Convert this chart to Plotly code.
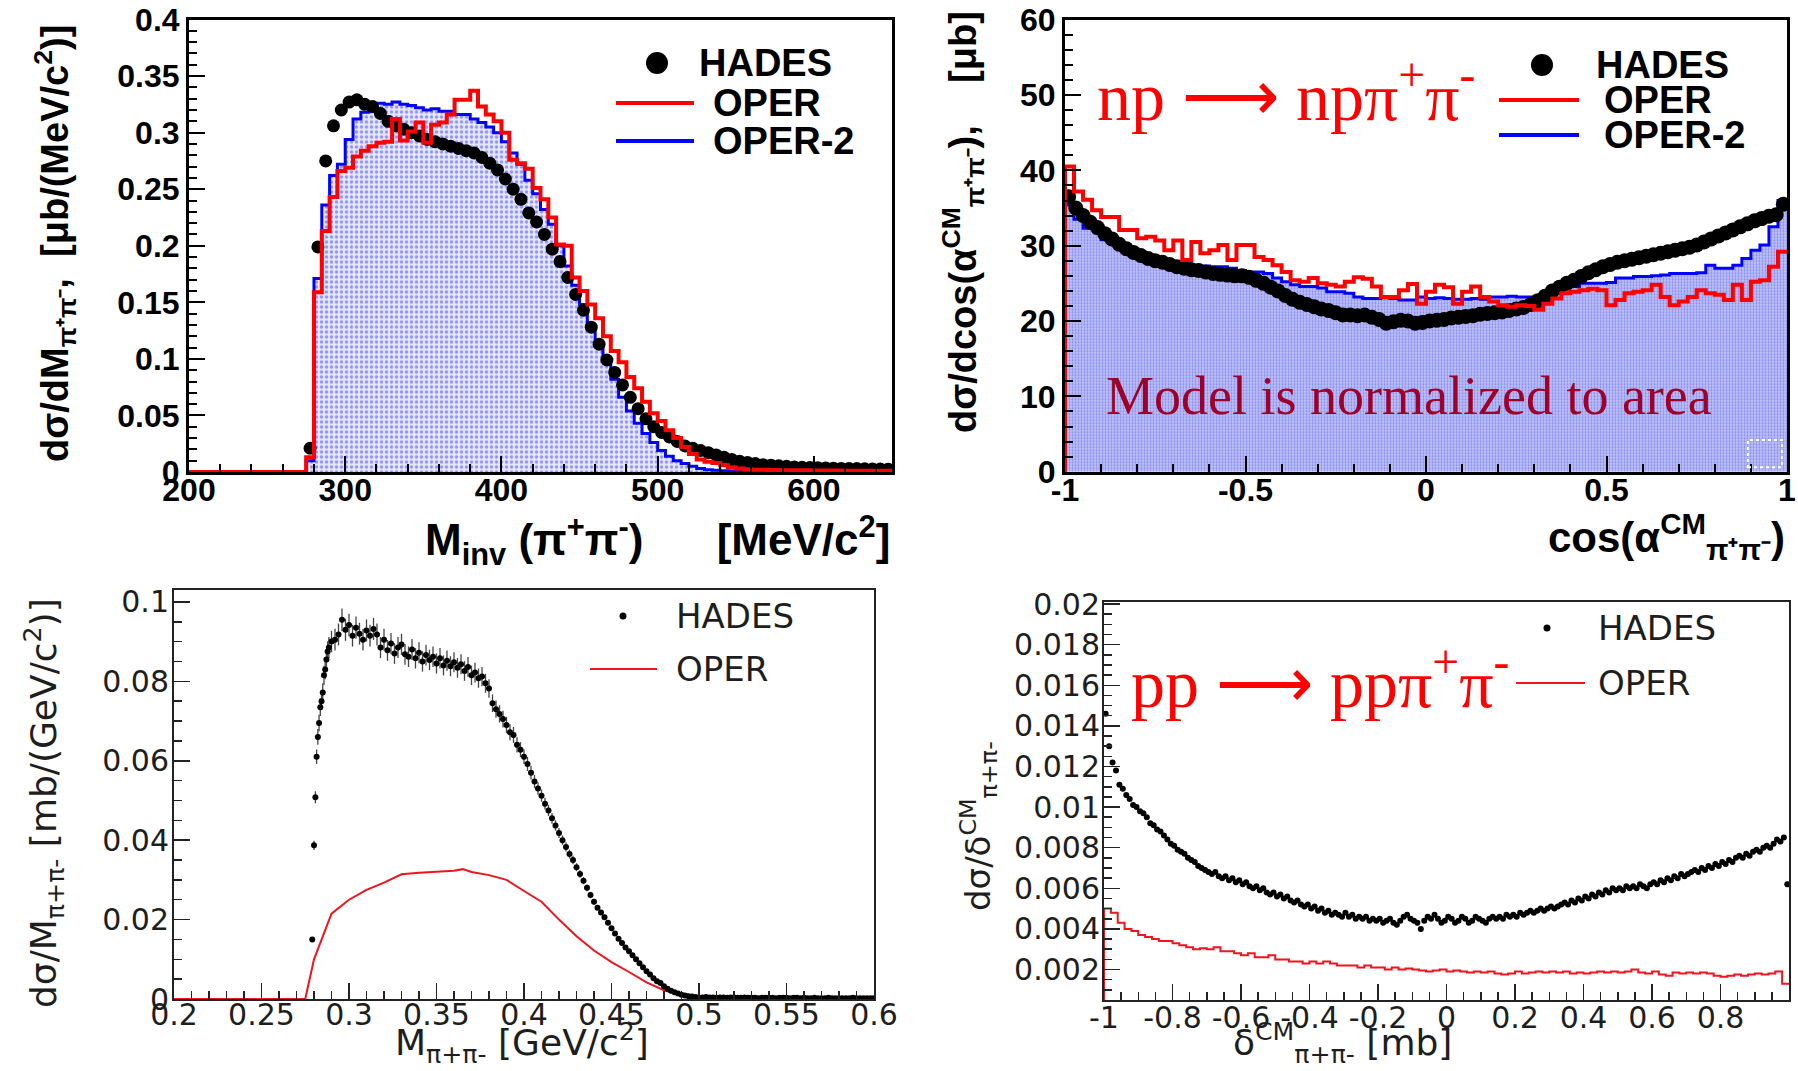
import numpy as np
import plotly.graph_objects as go

W, H = 1798, 1071

# ---------------- top-left: M_inv(pi+ pi-), np -> np pi+ pi- ----------------
m_edges = np.arange(200.0, 655.0, 5.0)          # 5 MeV bins, 200..650
oper_m = [0, 0, 0, 0, 0, 0, 0, 0, 0, 0, 0, 0, 0, 0, 0,
          0.013, 0.159, 0.213, 0.243, 0.266,
          0.269, 0.279, 0.284, 0.288, 0.291, 0.292, 0.312, 0.293, 0.301, 0.309,
          0.291, 0.307, 0.309, 0.316, 0.329, 0.329, 0.337, 0.323, 0.316, 0.310,
          0.300, 0.276, 0.273, 0.268, 0.251, 0.241, 0.225, 0.201, 0.200, 0.172,
          0.160, 0.148, 0.136, 0.120, 0.107, 0.097, 0.084, 0.074, 0.062, 0.052,
          0.045, 0.037, 0.030, 0.022, 0.016, 0.011, 0.009, 0.008, 0.006, 0.004,
          0.003, 0.0025,
          0.002, 0.002, 0.0018, 0.0018, 0.0016, 0.0016, 0.0015, 0.0015, 0.0014,
          0.0014, 0.0013, 0.0013, 0.0012, 0.0012, 0.0012, 0.0011, 0.0011, 0.001]
oper2_m = [0, 0, 0, 0, 0, 0, 0, 0, 0, 0, 0, 0, 0, 0, 0,
           0.010, 0.171, 0.236, 0.262, 0.272,
           0.294, 0.312, 0.318, 0.322, 0.326, 0.325, 0.327, 0.325, 0.324, 0.322,
           0.320, 0.321, 0.319, 0.319, 0.316, 0.316, 0.312, 0.309, 0.305, 0.300,
           0.292, 0.282, 0.272, 0.258, 0.246, 0.232, 0.219, 0.200, 0.182, 0.165,
           0.148, 0.130, 0.114, 0.099, 0.082, 0.066, 0.054, 0.043, 0.034, 0.026,
           0.019, 0.014, 0.010, 0.0075, 0.005, 0.003, 0.002, 0.0015, 0.001,
           0.0008, 0.0006, 0.0005, 0.0004, 0.0003, 0, 0, 0, 0, 0, 0, 0, 0, 0, 0,
           0, 0, 0, 0, 0, 0]
hades_m_x = np.arange(277.5, 650.0, 5.0)
hades_m = [0.021, 0.199, 0.275, 0.306, 0.320, 0.327, 0.329, 0.325, 0.323, 0.317,
           0.310, 0.306, 0.303, 0.300, 0.297, 0.294, 0.292, 0.290, 0.288, 0.286,
           0.284, 0.282, 0.278, 0.273, 0.267, 0.259, 0.250, 0.241, 0.229, 0.221,
           0.210, 0.197, 0.186, 0.172, 0.157, 0.143, 0.128, 0.113, 0.099, 0.088,
           0.077, 0.066, 0.056, 0.047, 0.040, 0.035, 0.031, 0.027, 0.023, 0.021,
           0.019, 0.017, 0.015, 0.013, 0.011, 0.0095, 0.0085, 0.0075, 0.0065, 0.006,
           0.0055, 0.005, 0.0045, 0.0042, 0.004, 0.0038, 0.0036, 0.0034, 0.0032, 0.003,
           0.003, 0.0028, 0.0027, 0.0026, 0.0025]

# ---------------- top-right: cos(alpha_CM), np -> np pi+ pi- ----------------
c_edges = np.linspace(-1.0, 1.0, 81)             # 80 bins of 0.025
oper_c = [40.5, 37.2, 36.1, 34.7, 33.8, 33.8, 32.1, 32.1, 31.0, 31.2,
          30.7, 29.4, 30.7, 28.1, 30.5, 29.0, 29.4, 30.1, 28.1, 30.1,
          30.1, 28.5, 28.1, 27.4, 26.5, 25.4, 25.2, 25.7, 25.0, 24.8,
          24.6, 25.2, 25.8, 25.6, 24.6, 23.2, 23.2, 24.1, 24.9, 22.3,
          23.9, 24.8, 24.5, 22.3, 23.9, 24.6, 23.2, 22.6, 22.1, 21.9,
          22.1, 22.0, 21.5, 22.3, 23.0, 23.7, 23.9, 24.1, 24.3, 24.1,
          22.1, 22.8, 23.7, 23.9, 24.1, 24.8, 23.2, 22.1, 22.6, 23.2,
          24.1, 23.7, 23.5, 22.8, 24.8, 22.8, 25.2, 25.4, 27.2, 29.2]
oper2_c = [35.4, 33.5, 32.3, 32.3, 30.8, 30.5, 30.2, 29.0, 28.3, 28.3,
           28.1, 28.0, 27.8, 27.6, 27.4, 27.3, 27.2, 27.2, 27.0, 26.7,
           26.5, 26.5, 26.3, 25.7, 25.2, 24.8, 24.6, 24.6, 24.4, 23.9,
           23.9, 23.7, 23.2, 23.0, 23.0, 23.1, 23.0, 22.8, 22.8, 23.2,
           23.0, 23.1, 23.0, 22.9, 22.9, 23.0, 22.9, 23.2, 23.2, 23.3,
           23.2, 23.2, 23.3, 23.9, 24.0, 24.6, 24.6, 25.0, 25.0, 25.0,
           25.1, 25.7, 25.7, 25.9, 25.9, 26.0, 26.1, 26.3, 26.3, 26.3,
           26.4, 27.4, 27.0, 27.0, 27.4, 28.3, 29.4, 30.1, 32.5, 36.0]
hades_c_x = np.round(np.arange(-0.99, 1.0, 0.02), 3)
hades_c = [36.5, 35.0, 34.0, 33.1, 32.4, 31.6, 30.9, 30.2, 29.6, 29.1,
           28.7, 28.3, 28.0, 27.8, 27.5, 27.2, 27.0, 26.8, 26.7, 26.5,
           26.3, 26.2, 26.1, 26.0, 26.0, 25.8, 25.4, 25.0, 24.5, 24.0,
           23.4, 22.9, 22.5, 22.2, 21.9, 21.6, 21.4, 21.1, 20.8, 20.8,
           20.7, 20.8, 20.5, 20.2, 19.7, 19.9, 20.1, 20.0, 19.7, 19.8,
           20.0, 20.1, 20.2, 20.4, 20.5, 20.6, 20.7, 20.9, 21.0, 21.1,
           21.2, 21.4, 21.6, 21.8, 22.2, 22.7, 23.3, 24.0, 24.5, 25.0,
           25.4, 25.9, 26.4, 26.8, 27.2, 27.5, 27.8, 28.0, 28.2, 28.4,
           28.6, 28.8, 29.0, 29.2, 29.4, 29.6, 29.8, 30.1, 30.5, 30.9,
           31.3, 31.7, 32.1, 32.5, 32.9, 33.3, 33.6, 33.9, 34.1, 35.5]

# ---------------- bottom-left: M(pi+ pi-), pp -> pp pi+ pi- ----------------
oper_pm_x = [0.20, 0.27, 0.275, 0.28, 0.285, 0.29, 0.30, 0.31, 0.32, 0.33, 0.34,
             0.35, 0.36, 0.365, 0.37, 0.38, 0.39, 0.40, 0.41, 0.42, 0.43, 0.44,
             0.45, 0.46, 0.47, 0.48, 0.49, 0.50, 0.52, 0.55, 0.60]
oper_pm = [0, 0, 0, 0.010, 0.016, 0.0215, 0.0250, 0.0275, 0.0293, 0.0314, 0.0318,
           0.0320, 0.0323, 0.0327, 0.0320, 0.0312, 0.0300, 0.0272, 0.0245, 0.0200,
           0.0158, 0.0122, 0.0093, 0.0068, 0.0042, 0.0022, 0.0009, 0.0004, 0.0002,
           0.0002, 0.0001]
hades_pm_edge_x = [0.2790, 0.2800, 0.2808, 0.2815, 0.2822, 0.2829, 0.2836,
                   0.2843, 0.2850, 0.2857, 0.2864, 0.2871, 0.2878, 0.2885]
hades_pm_edge = [0.0150, 0.0387, 0.0508, 0.0610, 0.0660, 0.0695, 0.0735,
                 0.0750, 0.0772, 0.0815, 0.0830, 0.0855, 0.0875, 0.0885]
hades_pm_grid_x = np.round(np.arange(0.290, 0.6005, 0.002), 4)
hades_pm_grid = [0.0900, 0.0905, 0.0918, 0.0955, 0.0930, 0.0942, 0.0915, 0.0935, 0.0920, 0.0905,
                 0.0928, 0.0915, 0.0932, 0.0918, 0.0885, 0.0905, 0.0878, 0.0895, 0.0870, 0.0885,
                 0.0893, 0.0868, 0.0862, 0.0880, 0.0858, 0.0872, 0.0850, 0.0866, 0.0854, 0.0862,
                 0.0845, 0.0858, 0.0840, 0.0852, 0.0838, 0.0848, 0.0834, 0.0843, 0.0826, 0.0836,
                 0.0815, 0.0822, 0.0808, 0.0812, 0.0795, 0.0782, 0.0745, 0.0730, 0.0718, 0.0705,
                 0.0690, 0.0672, 0.0665, 0.0640, 0.0628, 0.0610, 0.0592, 0.0570, 0.0548, 0.0530,
                 0.0512, 0.0492, 0.0475, 0.0455, 0.0437, 0.0418, 0.0400, 0.0383, 0.0365, 0.0350,
                 0.0332, 0.0315, 0.0298, 0.0280, 0.0262, 0.0245, 0.0230, 0.0218, 0.0206, 0.0192,
                 0.0178, 0.0165, 0.0152, 0.0141, 0.0130, 0.0120, 0.0110, 0.0100, 0.0090, 0.0080,
                 0.0070, 0.0062, 0.0052, 0.0045, 0.0040, 0.0032, 0.0026, 0.0021, 0.0017, 0.0014,
                 0.0011, 0.0009, 0.0007, 0.0006, 0.0005,
                 0.0004, 0.0004, 0.0005, 0.0004, 0.0004, 0.0003, 0.0004, 0.0004, 0.0003, 0.0004,
                 0.0004, 0.0003, 0.0003, 0.0004, 0.0003, 0.0003, 0.0003, 0.0002, 0.0003, 0.0003,
                 0.0003, 0.0003, 0.0002, 0.0003, 0.0003, 0.0003, 0.0002, 0.0003, 0.0003, 0.0002,
                 0.0003, 0.0002, 0.0002, 0.0003, 0.0002, 0.0002, 0.0002, 0.0003, 0.0002, 0.0002,
                 0.0002, 0.0002, 0.0002, 0.0002, 0.0003, 0.0002, 0.0002, 0.0002, 0.0002, 0.0002,
                 0.0002]
hades_pm_x = list(hades_pm_edge_x) + list(hades_pm_grid_x)
hades_pm = hades_pm_edge + hades_pm_grid

# ---------------- bottom-right: delta_CM, pp -> pp pi+ pi- ----------------
d_edges = np.linspace(-1.0, 1.0, 101)            # 100 bins of 0.02
oper_d = [0.0050, 0.0048, 0.0043, 0.0040, 0.0039, 0.0037, 0.0036, 0.0035, 0.0034, 0.0034,
          0.0033, 0.0032, 0.0031, 0.0030, 0.00305, 0.0030, 0.0031, 0.0029, 0.0029, 0.0028,
          0.0027, 0.0028, 0.0026, 0.0026, 0.0027, 0.0025, 0.0025, 0.0024, 0.0024, 0.0023,
          0.0024, 0.0023, 0.0024, 0.0023, 0.0022, 0.0022, 0.0022, 0.0021, 0.0022, 0.0021,
          0.0021, 0.0020, 0.0021, 0.0020, 0.00205, 0.0020, 0.00195, 0.0019, 0.00195, 0.0020,
          0.0019, 0.00195, 0.0019, 0.00185, 0.0019, 0.00185, 0.0019, 0.0018, 0.00175, 0.0018,
          0.0019, 0.0018, 0.00185, 0.0019, 0.00185, 0.0019, 0.00185, 0.0019, 0.0018, 0.00185,
          0.0018, 0.00185, 0.0019, 0.00185, 0.0019, 0.00185, 0.0019, 0.0020, 0.00185, 0.0018,
          0.0019, 0.00175, 0.0017, 0.00185, 0.0018, 0.00185, 0.0018, 0.00185, 0.0018, 0.0017,
          0.00165, 0.0017, 0.00175, 0.0017, 0.00175, 0.0018, 0.00175, 0.0018, 0.0019, 0.0013]
hades_d_x = np.round(np.arange(-0.995, 1.0, 0.01), 3)
hades_d = [0.0146, 0.0130, 0.0122, 0.0118, 0.0111, 0.0109, 0.0106, 0.0104, 0.0101, 0.0100,
           0.0098, 0.0097, 0.0095, 0.0092, 0.0091, 0.0089, 0.0088, 0.0086, 0.0084, 0.0082,
           0.0081, 0.0079, 0.0078, 0.0077, 0.0075, 0.0074, 0.0073, 0.0071, 0.0070, 0.0069,
           0.0068, 0.0067, 0.0068, 0.0066, 0.0065, 0.0066, 0.0064, 0.0065, 0.0063, 0.0064,
           0.0062, 0.0063, 0.0061, 0.0060, 0.0061, 0.0059, 0.0060, 0.0058, 0.0057, 0.0058,
           0.0056, 0.0057, 0.0055, 0.0056, 0.0054, 0.0053, 0.0054, 0.0052, 0.0051, 0.0052,
           0.0050, 0.0051, 0.0049, 0.0050, 0.0048, 0.0049, 0.0047, 0.0048, 0.0047, 0.0046,
           0.0048, 0.0046, 0.0047, 0.0045, 0.0046, 0.0045, 0.0046, 0.0044, 0.0045, 0.0044,
           0.0045, 0.0043, 0.0044, 0.0045, 0.0043, 0.0042, 0.0044, 0.0046, 0.0047, 0.0045,
           0.0044, 0.0043, 0.0040, 0.0044, 0.0046, 0.0045, 0.0047, 0.0045, 0.0043, 0.0044,
           0.0046, 0.0045, 0.0043, 0.0044, 0.0046, 0.0045, 0.0043, 0.0044, 0.0046, 0.0045,
           0.0044, 0.0043, 0.0045, 0.0046, 0.0045, 0.0046, 0.0045, 0.0047, 0.0046, 0.0047,
           0.0046, 0.0048, 0.0047, 0.0048, 0.0049, 0.0048, 0.0049, 0.0050, 0.0049, 0.0050,
           0.0051, 0.0050, 0.0051, 0.0052, 0.0053, 0.0052, 0.0054, 0.0053, 0.0055, 0.0054,
           0.0056, 0.0055, 0.0057, 0.0056, 0.0058, 0.0057, 0.0059, 0.0058, 0.0060, 0.0059,
           0.0060, 0.0059, 0.0061, 0.0060, 0.0061, 0.0060, 0.0062, 0.0061, 0.0060, 0.0062,
           0.0063, 0.0062, 0.0064, 0.0063, 0.0065, 0.0064, 0.0066, 0.0065, 0.0067, 0.0066,
           0.0067, 0.0068, 0.0069, 0.0068, 0.0070, 0.0069, 0.0071, 0.0070, 0.0072, 0.0071,
           0.0073, 0.0072, 0.0074, 0.0073, 0.0075, 0.0076, 0.0075, 0.0077, 0.0076, 0.0078,
           0.0079, 0.0078, 0.0080, 0.0081, 0.0080, 0.0082, 0.0084, 0.0083, 0.0085, 0.0062]

RED, BLUE, BLACK = "#ff0000", "#0000ff", "#000000"
GREY_TXT = "#1e1e1e"
SANS = "Liberation Sans, Arial, sans-serif"
SANS_B = "DejaVu Sans, sans-serif"
SERIF = "Liberation Serif, Times New Roman, serif"
SP = "&nbsp;"


def px(x):
    return x / W


def py(y):
    return 1 - y / H


def step_xy(edges, vals, start=0.0):
    """Histogram outline for line_shape='hv'."""
    xs = [edges[0]] + list(edges)
    ys = [start] + list(vals) + [vals[-1]]
    return xs, ys


fig = go.Figure()

# top-left
xs, ys = step_xy(m_edges, oper2_m)
fig.add_trace(go.Scatter(x=xs, y=ys, mode="lines", line=dict(color=BLUE, width=3, shape="hv"),
                         fill="tozeroy", fillcolor="#dcdff9",
                         fillpattern=dict(shape=".", fgcolor="#3a3aff", bgcolor="#e6e8fb",
                                          size=5, solidity=0.35),
                         xaxis="x", yaxis="y", showlegend=False, hoverinfo="skip"))
fig.add_trace(go.Scatter(x=hades_m_x, y=hades_m, mode="markers",
                         marker=dict(color=BLACK, size=13), xaxis="x", yaxis="y", showlegend=False))
xs, ys = step_xy(m_edges, oper_m)
fig.add_trace(go.Scatter(x=xs, y=ys, mode="lines", line=dict(color=RED, width=4, shape="hv"),
                         xaxis="x", yaxis="y", showlegend=False))

# top-right
xs, ys = step_xy(c_edges, oper2_c)
fig.add_trace(go.Scatter(x=xs, y=ys, mode="lines", line=dict(color=BLUE, width=3, shape="hv"),
                         fill="tozeroy", fillcolor="#b3b8f1",
                         fillpattern=dict(shape=".", fgcolor="#4848ff", bgcolor="#bcc0f3",
                                          size=3, solidity=0.3),
                         xaxis="x2", yaxis="y2", showlegend=False, hoverinfo="skip"))
fig.add_trace(go.Scatter(x=hades_c_x, y=hades_c, mode="markers",
                         marker=dict(color=BLACK, size=15), xaxis="x2", yaxis="y2", showlegend=False))
xs, ys = step_xy(c_edges, oper_c)
fig.add_trace(go.Scatter(x=xs, y=ys, mode="lines", line=dict(color=RED, width=4, shape="hv"),
                         xaxis="x2", yaxis="y2", showlegend=False))

# bottom-left
fig.add_trace(go.Scatter(x=oper_pm_x, y=oper_pm, mode="lines", line=dict(color="#f0141e", width=2),
                         xaxis="x3", yaxis="y3", showlegend=False))
fig.add_trace(go.Scatter(x=hades_pm_x, y=hades_pm, mode="markers",
                         marker=dict(color=BLACK, size=6),
                         error_y=dict(type="percent", value=3.0, color="#444444", thickness=1.3, width=0),
                         xaxis="x3", yaxis="y3", showlegend=False))

# bottom-right
xs, ys = step_xy(d_edges, oper_d)
fig.add_trace(go.Scatter(x=xs, y=ys, mode="lines", line=dict(color="#f0141e", width=2, shape="hv"),
                         xaxis="x4", yaxis="y4", showlegend=False))
fig.add_trace(go.Scatter(x=hades_d_x, y=hades_d, mode="markers",
                         marker=dict(color=BLACK, size=6), xaxis="x4", yaxis="y4", showlegend=False))


def axis(dom, rng, vals, text, minor, anchor, font, lw, tl, ml, col="#000000", tw=2, so=0):
    return dict(domain=dom, range=rng, anchor=anchor, tickmode="array", tickvals=vals,
                ticktext=text, ticks="inside", ticklen=tl, tickwidth=tw, tickcolor=col,
                showline=True, linecolor=col, linewidth=lw, mirror=True, showgrid=False,
                zeroline=False, tickfont=font, fixedrange=True, automargin=False,
                ticklabelstandoff=so,
                minor=dict(tickmode="array", tickvals=list(minor), ticks="inside",
                           ticklen=ml, tickwidth=tw, tickcolor=col, showgrid=False))


F_TOP = dict(family=SANS, size=32, color="#000000", weight="bold")
F_BOT = dict(family=SANS_B, size=30, color=GREY_TXT)

fig.update_layout(
    width=W, height=H, margin=dict(l=0, r=0, t=0, b=0, autoexpand=False),
    paper_bgcolor="white", plot_bgcolor="white", showlegend=False,
    xaxis=axis([px(189), px(892)], [200, 650], [200, 300, 400, 500, 600],
               ["200", "300", "400", "500", "600"], np.arange(200, 651, 20), "y", F_TOP, 3, 16, 8,
               so=-12),
    yaxis=axis([py(472), py(19.5)], [0, 0.4], [0, 0.05, 0.1, 0.15, 0.2, 0.25, 0.3, 0.35, 0.4],
               ["0", "0.05", "0.1", "0.15", "0.2", "0.25", "0.3", "0.35", "0.4"],
               np.round(np.arange(0, 0.401, 0.01), 3), "x", F_TOP, 3, 16, 8),
    xaxis2=axis([px(1065), px(1787)], [-1, 1], [-1, -0.5, 0, 0.5, 1],
                ["-1", "-0.5", "0", "0.5", "1"], np.round(np.arange(-1, 1.01, 0.1), 2), "y2",
                F_TOP, 3, 16, 8, so=-12),
    yaxis2=axis([py(471.7), py(19.7)], [0, 60], [0, 10, 20, 30, 40, 50, 60],
                ["0", "10", "20", "30", "40", "50", "60"], np.arange(0, 61, 2), "x2",
                F_TOP, 3, 16, 8),
    xaxis3=axis([px(174), px(874)], [0.2, 0.6],
                [0.2, 0.25, 0.3, 0.35, 0.4, 0.45, 0.5, 0.55, 0.6],
                ["0.2", "0.25", "0.3", "0.35", "0.4", "0.45", "0.5", "0.55", "0.6"],
                np.round(np.arange(0.2, 0.601, 0.01), 3), "y3", F_BOT, 2, 16, 8,
                col="#222222", tw=1.5, so=-12),
    yaxis3=axis([py(999), py(590)], [0, 0.103], [0, 0.02, 0.04, 0.06, 0.08, 0.1],
                ["0", "0.02", "0.04", "0.06", "0.08", "0.1"],
                np.round(np.arange(0, 0.1031, 0.005), 4), "x3", F_BOT, 2, 16, 8,
                col="#222222", tw=1.5, so=-3),
    xaxis4=axis([px(1104), px(1789)], [-1, 1],
                [-1, -0.8, -0.6, -0.4, -0.2, 0, 0.2, 0.4, 0.6, 0.8, 1],
                ["-1", "-0.8", "-0.6", "-0.4", "-0.2", "0", "0.2", "0.4", "0.6", "0.8", "1"],
                np.round(np.arange(-1, 1.01, 0.05), 3), "y4", F_BOT, 2, 16, 8,
                col="#222222", tw=1.5, so=-10),
    yaxis4=axis([py(1000), py(602)], [0.0005, 0.0201],
                [0.002, 0.004, 0.006, 0.008, 0.01, 0.012, 0.014, 0.016, 0.018, 0.02],
                ["0.002", "0.004", "0.006", "0.008", "0.01", "0.012", "0.014", "0.016",
                 "0.018", "0.02"],
                np.round(np.arange(0.0005, 0.0201, 0.0005), 5), "x4", F_BOT, 2, 16, 8,
                col="#222222", tw=1.5, so=-4),
)

ann = []


def text(x, y, s, size, color="#000000", family=SANS, weight="bold", xanchor="left",
         angle=0, yanchor="middle"):
    ann.append(dict(x=px(x), y=py(y), xref="paper", yref="paper", text=s, showarrow=False,
                    xanchor=xanchor, yanchor=yanchor, textangle=angle,
                    font=dict(family=family, size=size, color=color, weight=weight)))


# axis titles
text(55, 244, "dσ/dM<sub>π⁺π⁻</sub>," + SP * 2 + "[μb/(MeV/c<sup>2</sup>)]", 38,
     xanchor="center", angle=-90)
text(892, 540, "M<sub>inv</sub> (π<sup>+</sup>π<sup>-</sup>)" + SP * 6 + "[MeV/c<sup>2</sup>]", 44,
     xanchor="right")
text(963, 222, "dσ/dcos(α<sup>CM</sup><sub>π⁺π⁻</sub>)," + SP * 4 + "[μb]", 38,
     xanchor="center", angle=-90)
text(1787, 536, "cos(α<sup>CM</sup><sub>π⁺π⁻</sub>)", 42, xanchor="right")
text(522, 1043, "M<sub>π+π-</sub> [GeV/c<sup>2</sup>]", 36, color=GREY_TXT, family=SANS_B,
     weight="normal", xanchor="center")
text(44, 803, "dσ/M<sub>π+π-</sub> [mb/(GeV/c<sup>2</sup>)]", 36, color=GREY_TXT, family=SANS_B,
     weight="normal", xanchor="center", angle=-90)
text(1342, 1043, "δ<sup>CM</sup><sub>π+π-</sub> [mb]", 36, color=GREY_TXT, family=SANS_B,
     weight="normal", xanchor="center")
text(978, 826, "dσ/δ<sup>CM</sup><sub>π+π-</sub>", 34, color=GREY_TXT, family=SANS_B,
     weight="normal", xanchor="center", angle=-90)

# reaction labels and note
text(1095, 92, "np ⟶ npπ<sup>+</sup>π<sup>-</sup>", 68, color=RED, family=SERIF, weight="normal")
text(1129, 679, "pp ⟶ ppπ<sup>+</sup>π<sup>-</sup>", 68, color=RED, family=SERIF, weight="normal")
text(1409, 396, "Model is normalized to area", 54, color="#9e0028", family=SERIF,
     weight="normal", xanchor="center")

# legends (top panels)
text(697, 63, "HADES", 38)
text(711, 103, "OPER", 38)
text(711, 141, "OPER-2", 38)
text(1594, 65, "HADES", 38)
text(1602, 100, "OPER", 38)
text(1602, 135, "OPER-2", 38)
# legends (bottom panels)
text(674, 616, "HADES", 34, color=GREY_TXT, family=SANS_B, weight="normal")
text(674, 669, "OPER", 34, color=GREY_TXT, family=SANS_B, weight="normal")
text(1596, 628, "HADES", 34, color=GREY_TXT, family=SANS_B, weight="normal")
text(1596, 683, "OPER", 34, color=GREY_TXT, family=SANS_B, weight="normal")

shapes = []


def dot(cx, cy, d):
    shapes.append(dict(type="circle", xref="paper", yref="paper",
                       x0=px(cx - d / 2), x1=px(cx + d / 2), y0=py(cy + d / 2), y1=py(cy - d / 2),
                       fillcolor=BLACK, line=dict(width=0)))


def seg(x0, x1, y, color, w):
    shapes.append(dict(type="line", xref="paper", yref="paper", x0=px(x0), x1=px(x1),
                       y0=py(y), y1=py(y), line=dict(color=color, width=w)))


dot(657, 63, 22)
seg(616, 694, 103, RED, 4)
seg(616, 694, 141, BLUE, 4)
dot(1542, 65, 22)
seg(1499, 1579, 100, RED, 4)
seg(1499, 1579, 135, BLUE, 4)
dot(623, 616, 7)
seg(590, 657, 669, "#f0141e", 2)
dot(1547, 628, 7)
seg(1516, 1585, 683, "#f0141e", 2)

# small dotted box in the lower-right corner of the angular panel
shapes.append(dict(type="rect", xref="x2", yref="y2", x0=0.892, x1=0.986, y0=0.6, y1=4.2,
                   line=dict(color="white", width=2, dash="dot")))

fig.update_layout(annotations=ann, shapes=shapes)
fig.write_html("out.html", config={"displayModeBar": False, "staticPlot": True})
